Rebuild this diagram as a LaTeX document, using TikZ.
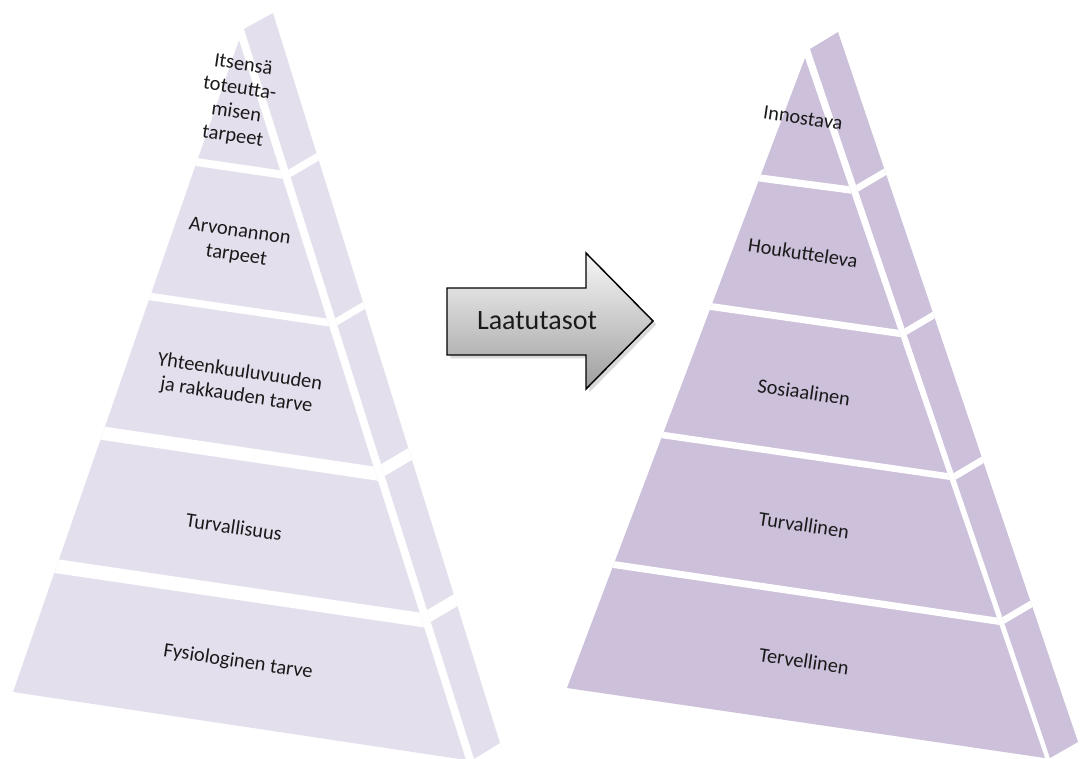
\documentclass[tikz,border=0pt]{standalone}
\usepackage{fontspec}
\setmainfont{Carlito}
\usepackage{xcolor}
\definecolor{pyrlight}{RGB}{228,223,236}
\definecolor{pyrdark}{RGB}{204,192,218}
\definecolor{pyrtext}{RGB}{26,26,26}
\definecolor{arrowtop}{RGB}{247,247,247}
\definecolor{arrowbot}{RGB}{158,158,158}
\usepackage{tikz}
\usetikzlibrary{shadows}

\begin{document}
\begin{tikzpicture}[x=0.75pt, y=-0.75pt,
  tier/.style={font=\fontsize{15.3}{18}\selectfont, text=pyrtext, align=center, rotate=-8.5, inner sep=0pt},
  gap/.style={draw=white, line width=#1}]
  \useasboundingbox (0,0) rectangle (1082,758);

  \fill[pyrlight] (239,40) -- (13,692) -- (466,760) -- cycle;
  \begin{scope}
    \clip (239,40) -- (13,692) -- (466,760) -- cycle;
    \draw[gap=6pt] (170,158.1) -- (305,178);
    \draw[gap=5.6pt] (125,292.8) -- (350,325.7);
    \draw[gap=10.1pt] (75,429.1) -- (400,477.2);
    \draw[gap=10.5pt] (30,562.3) -- (445,623.4);
  \end{scope}
  \fill[pyrlight] (244,29) -- (273,13) -- (500,743) -- (474,759) -- cycle;
  \begin{scope}
    \clip (244,29) -- (273,13) -- (500,743) -- (474,759) -- cycle;
    \draw[gap=5.6pt] (280,179) -- (335,146.6);
    \draw[gap=5.25pt] (325,328.5) -- (380,296);
    \draw[gap=9pt] (370,477.7) -- (425,445.2);
    \draw[gap=9pt] (415,624.1) -- (470,591.7);
  \end{scope}

  \fill[pyrdark] (805,58) -- (567,688) -- (1045,758) -- cycle;
  \begin{scope}
    \clip (805,58) -- (567,688) -- (1045,758) -- cycle;
    \draw[gap=5.4pt] (735,174.7) -- (875,193.2);
    \draw[gap=5.25pt] (685,302.8) -- (925,337.1);
    \draw[gap=4.9pt] (635,431) -- (975,480.3);
    \draw[gap=5.25pt] (585,560.3) -- (1025,625.2);
  \end{scope}
  \fill[pyrdark] (810,49) -- (838,32) -- (1078,742) -- (1050,758) -- cycle;
  \begin{scope}
    \clip (810,49) -- (838,32) -- (1078,742) -- (1050,758) -- cycle;
    \draw[gap=5pt] (845,195.5) -- (900,163);
    \draw[gap=5pt] (895,337.9) -- (950,305.4);
    \draw[gap=5pt] (945,482.1) -- (1000,449.6);
    \draw[gap=5pt] (990,628.3) -- (1045,595.8);
  \end{scope}

  \path[draw=black, line width=1.1pt, line join=miter, top color=arrowtop, bottom color=arrowbot,
    drop shadow={shadow xshift=2.5pt, shadow yshift=-2.5pt, opacity=0.3}]
    (447,288) -- (586,288) -- (586,253) -- (653,321) -- (586,389) -- (586,355) -- (447,355) -- cycle;
  \node[font=\fontsize{21}{25}\selectfont, text=pyrtext, inner sep=0pt] (laatu) at (537,320.5) {Laatutasot};

  \node[tier] (itsensa) at (238,101) {Itsensä\\toteutta-\\misen\\tarpeet};
  \node[tier] (arvo) at (238,244) {Arvonannon\\tarpeet};
  \node[tier] (yhteen) at (238,384) {Yhteenkuuluvuuden\\ja rakkauden tarve};
  \node[tier] (turva) at (234,527) {Turvallisuus};
  \node[tier] (fysio) at (238,662) {Fysiologinen tarve};

  \node[tier] (innostava) at (803,118) {Innostava};
  \node[tier] (houkutteleva) at (803,253) {Houkutteleva};
  \node[tier] (sosiaalinen) at (804,392) {Sosiaalinen};
  \node[tier] (turvallinen) at (804,525) {Turvallinen};
  \node[tier] (tervellinen) at (804,661) {Tervellinen};
\end{tikzpicture}
\end{document}
